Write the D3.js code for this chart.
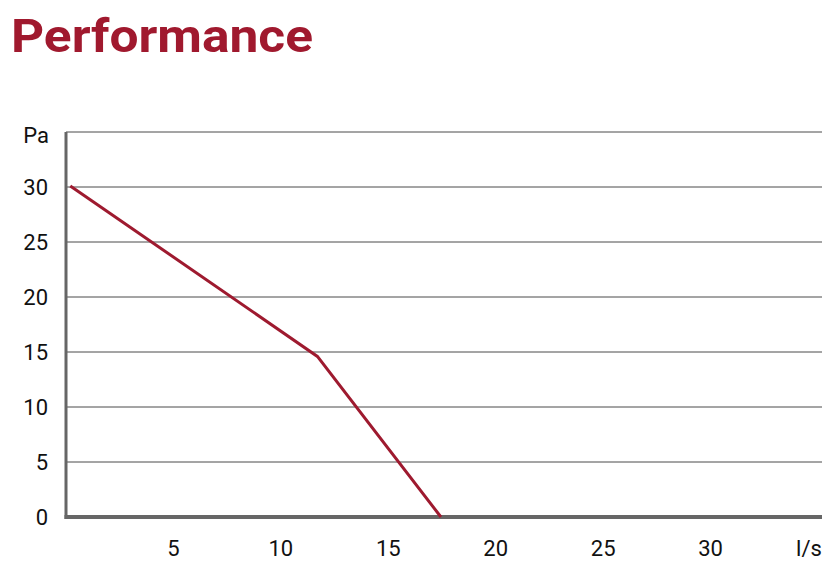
<!DOCTYPE html>
<html><head><meta charset="utf-8">
<script src="https://cdn.jsdelivr.net/npm/d3@7"></script>
<style>body{margin:0;background:#fff}</style>
</head><body>
<svg id="c" width="840" height="570"></svg>
<script>
const title = "Performance";
const yTicks = [0, 5, 10, 15, 20, 25, 30];
const xTicks = [5, 10, 15, 20, 25, 30];
const flow = [0.2, 11.7, 17.45];
const pressure = [30.1, 14.6, 0];
const yUnit = "Pa", xUnit = "l/s";

const svg = d3.select("#c");
const x = d3.scaleLinear().domain([0, 35]).range([66, 818]);
const y = d3.scaleLinear().domain([0, 35]).range([517, 132]);
const red = "#9e1a2f";

svg.append("text").attr("x", 11).attr("y", 52).text(title)
  .attr("font-family", "Roboto").attr("font-weight", "bold").attr("font-size", 47)
  .attr("textLength", 302).attr("lengthAdjust", "spacingAndGlyphs").attr("fill", "#a0192e");

// gridlines
svg.append("g").selectAll("line").data(yTicks.filter(d => d > 0).concat([35])).join("line")
  .attr("x1", x(0)).attr("x2", 822).attr("y1", d => y(d)).attr("y2", d => y(d))
  .attr("stroke", "#4a4a4a").attr("stroke-width", 1);

// axes
svg.append("line").attr("x1", x(0)).attr("x2", x(0)).attr("y1", y(35)).attr("y2", y(0) + 2)
  .attr("stroke", "#666").attr("stroke-width", 3);
svg.append("line").attr("x1", x(0) - 1.5).attr("x2", 822).attr("y1", y(0)).attr("y2", y(0))
  .attr("stroke", "#666").attr("stroke-width", 4);

const font = "Roboto";
const fs = 22;
svg.append("g").selectAll("text").data(yTicks).join("text")
  .attr("x", 48).attr("y", d => y(d) + 8).attr("text-anchor", "end")
  .attr("font-family", font).attr("font-size", fs).attr("fill", "#111").text(d => d);
svg.append("text").attr("x", 36).attr("y", 143).attr("text-anchor", "middle")
  .attr("font-family", font).attr("font-size", fs).attr("fill", "#111").text(yUnit);

svg.append("g").selectAll("text").data(xTicks).join("text")
  .attr("x", d => x(d)).attr("y", 556).attr("text-anchor", "middle")
  .attr("font-family", font).attr("font-size", fs).attr("fill", "#111").text(d => d);
svg.append("text").attr("x", 809).attr("y", 556).attr("text-anchor", "middle")
  .attr("font-family", font).attr("font-size", fs).attr("fill", "#111").text(xUnit);

const pts = flow.map((f, i) => [f, pressure[i]]);
svg.append("path").datum(pts)
  .attr("d", d3.line().x(d => x(d[0])).y(d => y(d[1])))
  .attr("fill", "none").attr("stroke", red).attr("stroke-width", 3);
</script>
</body></html>
